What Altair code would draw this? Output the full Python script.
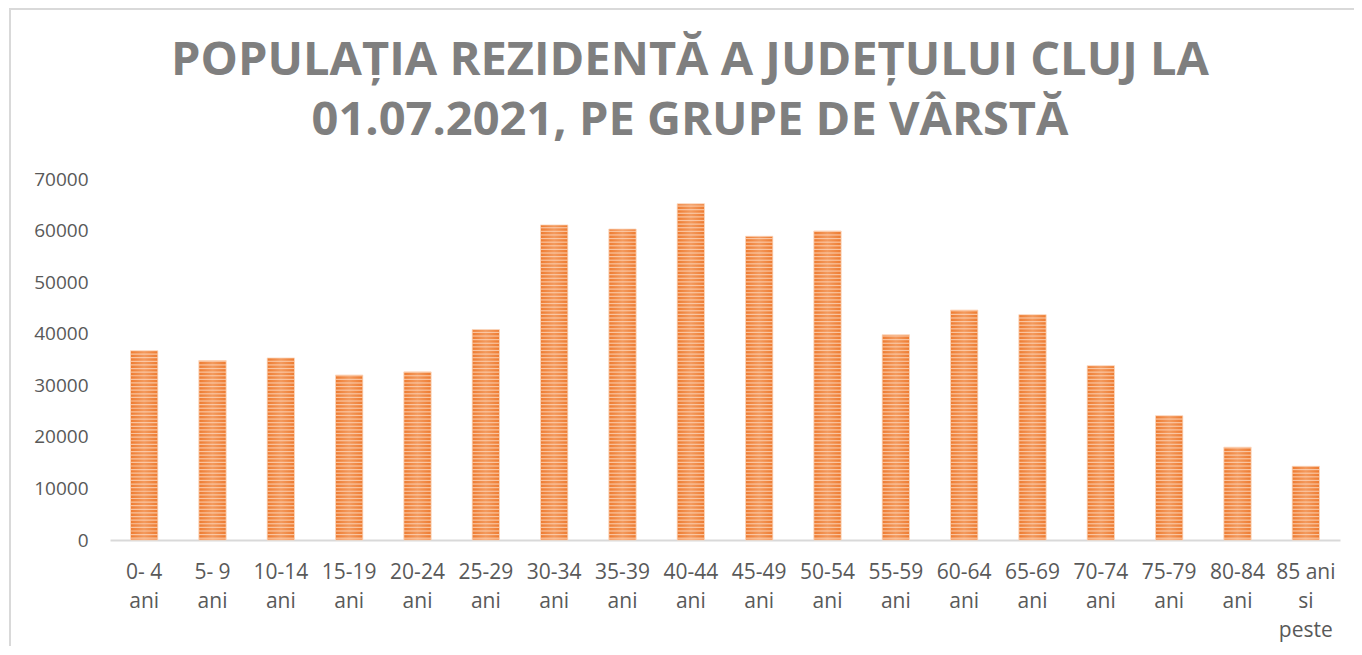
import altair as alt
import pandas as pd
import numpy as np

categories = ["0- 4\nani", "5- 9\nani", "10-14\nani", "15-19\nani", "20-24\nani",
              "25-29\nani", "30-34\nani", "35-39\nani", "40-44\nani", "45-49\nani",
              "50-54\nani", "55-59\nani", "60-64\nani", "65-69\nani", "70-74\nani",
              "75-79\nani", "80-84\nani", "85 ani\nsi\npeste"]
values = [36700, 34800, 35300, 32000, 32600, 40800, 61100, 60300, 65200,
          58900, 59900, 39800, 44600, 43700, 33800, 24100, 18000, 14300]
y_ticks = [0, 10000, 20000, 30000, 40000, 50000, 60000, 70000]
title_lines = ["POPULAȚIA REZIDENTĂ A JUDEȚULUI CLUJ LA", "01.07.2021, PE GRUPE DE VÂRSTĂ"]

df = pd.DataFrame({"cat": categories, "val": values})

# stripe texture rows derived from the bar values
stripe_step = 700
rows = []
for c, v in zip(categories, values):
    for s in np.arange(stripe_step / 2, v, stripe_step):
        rows.append({"cat": c, "s": float(s)})
stripes = pd.DataFrame(rows)

xenc = alt.X("cat:N", sort=categories, title=None,
             scale=alt.Scale(paddingInner=0.6, paddingOuter=0.3),
             axis=alt.Axis(labelAngle=0, labelExpr="split(datum.label, '\\n')",
                           labelFont="Open Sans", labelFontSize=21, labelColor="#595959",
                           labelLineHeight=29, labelPadding=21, ticks=False,
                           domainColor="#d9d9d9", domainWidth=2))

bars = alt.Chart(df).mark_bar(
    color=alt.LinearGradient(gradient="linear", x1=0, x2=1, y1=0, y2=0,
                             stops=[alt.GradientStop(offset=0, color="#ee7b30"),
                                    alt.GradientStop(offset=0.5, color="#f39a5e"),
                                    alt.GradientStop(offset=1, color="#ee7b30")]),
    stroke="#fbd9c2", strokeWidth=0.8
).encode(
    x=xenc,
    y=alt.Y("val:Q", title=None,
            scale=alt.Scale(domain=[0, 70000], nice=False),
            axis=alt.Axis(values=y_ticks, format="d", grid=False, domain=False, ticks=False,
                          labelFont="Open Sans", labelFontSize=19, labelColor="#595959",
                          labelPadding=22))
)

tex = alt.Chart(stripes).mark_tick(size=27, thickness=1.2, color="#fcd3b6", opacity=0.8).encode(
    x=alt.X("cat:N", sort=categories),
    y=alt.Y("s:Q")
)

frame = alt.Chart(pd.DataFrame({"a": [0]})).mark_rect(
    fill=None, stroke="#d9d9d9", strokeWidth=2
).encode(x=alt.value(-100), x2=alt.value(1400), y=alt.value(-170), y2=alt.value(600))

chart = alt.layer(frame, bars, tex).properties(
    width=1230, height=361,
    background="white",
    autosize=alt.AutoSizeParams(type="none"),
    padding={"left": 102, "top": 171, "right": 14, "bottom": 106},
    title=alt.TitleParams(text=title_lines, font="Open Sans", fontSize=47, fontWeight="bold",
                          color="#7f7f7f", lineHeight=60, anchor="middle", dx=-35, offset=-137)
).configure_view(strokeWidth=0, stroke="transparent")

chart.save("out.html", embed_options={"renderer": "svg", "actions": False})
